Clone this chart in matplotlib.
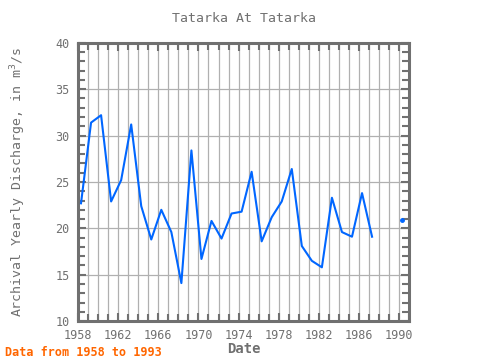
import numpy as np
import matplotlib
matplotlib.use("Agg")
import matplotlib.pyplot as plt
from matplotlib.ticker import MultipleLocator

years = [1958, 1959, 1960, 1961, 1962, 1963, 1964, 1965, 1966, 1967, 1968, 1969,
         1970, 1971, 1972, 1973, 1974, 1975, 1976, 1977, 1978, 1979, 1980, 1981,
         1982, 1983, 1984, 1985, 1986, 1987, 1988, 1989, 1990]
discharge = [22.7, 31.4, 32.2, 22.9, 25.2, 31.2, 22.4, 18.8, 22.0, 19.6, 14.1, 28.4,
             16.7, 20.8, 18.9, 21.6, 21.8, 26.1, 18.6, 21.2, 22.9, 26.4, 18.1, 16.5,
             15.8, 23.3, 19.6, 19.1, 23.8, 19.1, np.nan, np.nan, 20.9]

xticks = [1958, 1962, 1966, 1970, 1974, 1978, 1982, 1986, 1990]
yticks = [10, 15, 20, 25, 30, 35, 40]

gray = "#707070"
font = "DejaVu Sans Mono"

fig = plt.figure(figsize=(4.8, 3.6), dpi=100)
ax = fig.add_axes([0.1625, 0.108, 0.69, 0.773])

# observations are plotted a little after the start of each year
xpos = np.array(years, dtype=float) + 0.3
ax.plot(xpos, discharge, color="#0066ff", lw=1.5, zorder=3)
ax.plot([xpos[-1]], [discharge[-1]], "o", color="#0066ff", ms=2.5, zorder=3)

ax.set_xlim(1958, 1991)
ax.set_ylim(10, 40)
ax.set_xticks(xticks)
ax.set_yticks(yticks)
ax.xaxis.set_minor_locator(MultipleLocator(1))
ax.yaxis.set_minor_locator(MultipleLocator(1))
ax.grid(True, which="major", axis="y", color="#b0b0b0", lw=0.9)
ax.grid(True, which="both", axis="x", color="#b0b0b0", lw=0.9)
ax.set_axisbelow(True)

for s in ax.spines.values():
    s.set_color(gray)
    s.set_linewidth(2.2)

ax.tick_params(which="both", direction="in", top=True, right=True, color=gray,
               labelcolor=gray, labelsize=8.5)
ax.tick_params(which="major", length=6, width=1.5)
ax.tick_params(which="minor", length=5, width=1.5)
ax.tick_params(axis="x", which="major", pad=6)
ax.tick_params(axis="y", which="major", pad=6)
for lab in ax.get_xticklabels() + ax.get_yticklabels():
    lab.set_fontfamily(font)

ax.set_title("Tatarka At Tatarka", fontsize=9.5, color=gray, family=font, pad=15)
ax.set_xlabel("Date", fontsize=10, color=gray, family=font, fontweight="bold", labelpad=0)
ax.set_ylabel("Archival Yearly Discharge, in m$^3$/s", fontsize=9.5, color=gray,
              family=font, labelpad=20)

fig.text(0.01, 0.012, "Data from 1958 to 1993", color="#ff6600", fontsize=8.5,
         family=font, fontweight="bold")

fig.savefig("out.png", dpi=100)
